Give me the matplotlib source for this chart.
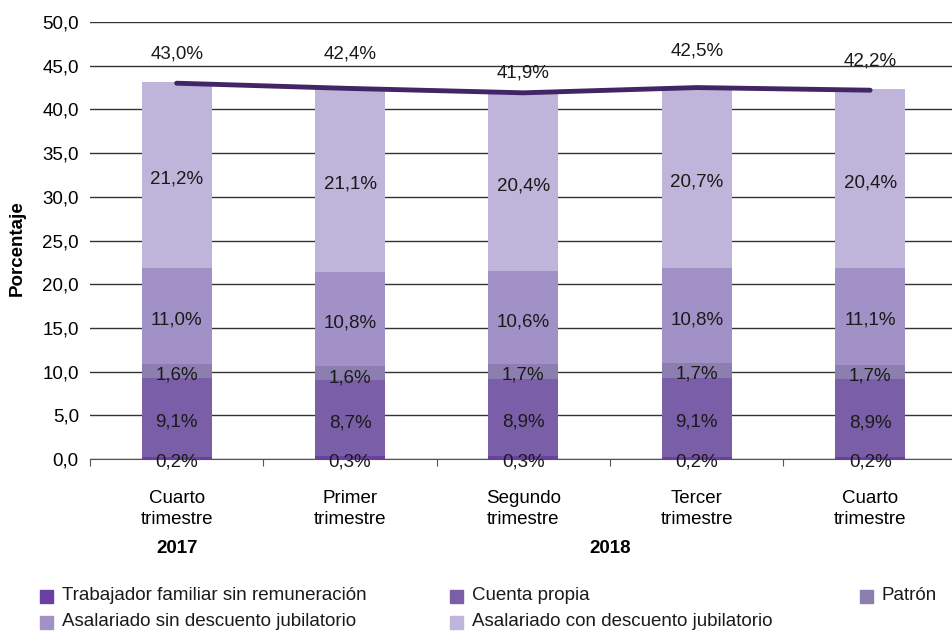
import numpy as np
import matplotlib
matplotlib.use("Agg")
import matplotlib.pyplot as plt
from matplotlib.patches import Rectangle

plt.rcParams["font.family"] = ["Liberation Sans", "DejaVu Sans"]

quarters = ["Cuarto\ntrimestre", "Primer\ntrimestre", "Segundo\ntrimestre",
            "Tercer\ntrimestre", "Cuarto\ntrimestre"]
series = ["Trabajador familiar sin remuneración", "Cuenta propia", "Patrón",
          "Asalariado sin descuento jubilatorio", "Asalariado con descuento jubilatorio"]
familiar = [0.2, 0.3, 0.3, 0.2, 0.2]
cuenta_propia = [9.1, 8.7, 8.9, 9.1, 8.9]
patron = [1.6, 1.6, 1.7, 1.7, 1.7]
asal_sin = [11.0, 10.8, 10.6, 10.8, 11.1]
asal_con = [21.2, 21.1, 20.4, 20.7, 20.4]
total = [43.0, 42.4, 41.9, 42.5, 42.2]

colors = ["#6a40a3", "#7a5ea8", "#8c7fb0", "#a291c6", "#bfb4d9"]
total_label_offset = [3.3, 3.9, 2.3, 4.2, 3.3]
FS = 13.5

fig = plt.figure(figsize=(9.53, 6.33), dpi=100)
ax = fig.add_axes([0.0944, 0.2749, 0.9096, 0.6903])

x = np.arange(len(quarters))
stack = [familiar, cuenta_propia, patron, asal_sin, asal_con]
bottom = np.zeros(len(x))
for vals, col in zip(stack, colors):
    vals = np.asarray(vals)
    ax.bar(x, vals, bottom=bottom, width=0.405, color=col, zorder=2)
    for xi, b, v in zip(x, bottom, vals):
        txt = f"{v:.1f}%".replace(".", ",")
        ax.annotate(txt, (xi, b + v / 2), xytext=(0, -3), textcoords="offset points",
                    ha="center", va="center", fontsize=FS, color="#1a1a1a", zorder=4)
    bottom += vals

ax.plot(x, total, color="#412565", lw=3.5, solid_capstyle="round", zorder=3)
for xi, t, off in zip(x, total, total_label_offset):
    ax.text(xi, t + off, f"{t:.1f}%".replace(".", ","), ha="center", va="center",
            fontsize=FS, color="#1a1a1a", zorder=4)

ax.set_xlim(-0.5, len(x) - 0.5)
ax.set_ylim(0, 50)
yt = np.arange(0, 50.1, 5)
ax.set_yticks(yt)
ax.set_yticklabels([f"{v:.1f}".replace(".", ",") for v in yt], fontsize=FS)
ax.yaxis.grid(True, color="#333333", lw=1)
ax.set_axisbelow(True)
ax.tick_params(axis="y", length=0, pad=8)

ax.set_xticks(np.arange(-0.5, len(x), 1))
ax.set_xticklabels([])
ax.set_xticks(x, minor=True)
ax.set_xticklabels(quarters, minor=True, fontsize=FS, linespacing=1.35)
ax.tick_params(axis="x", which="major", length=5, direction="out", color="#555555")
ax.tick_params(axis="x", which="minor", length=0, pad=22)

for s in ["top", "right", "left"]:
    ax.spines[s].set_visible(False)
ax.spines["bottom"].set_color("#555555")

fig.text(17 / 953, 1 - 248 / 633, "Porcentaje", rotation=90, ha="center", va="center",
         fontsize=FS, fontweight="bold")

ax.text(0, -0.204, "2017", transform=ax.get_xaxis_transform(), ha="center", va="center",
        fontsize=FS, fontweight="bold")
ax.text(2.5, -0.204, "2018", transform=ax.get_xaxis_transform(), ha="center", va="center",
        fontsize=FS, fontweight="bold")

# legend, placed by hand in pixel positions of the original
legend_pos = [(40, 596), (450, 596), (860, 596), (40, 622), (450, 622)]
for (px, py), lab, col in zip(legend_pos, series, colors):
    fig.add_artist(Rectangle((px / 953, 1 - (py + 7) / 633), 13 / 953, 13 / 633,
                             transform=fig.transFigure, color=col))
    fig.text((px + 22) / 953, 1 - py / 633, lab, ha="left", va="center",
             fontsize=FS, color="#1a1a1a")

fig.savefig("out.png", dpi=100)
